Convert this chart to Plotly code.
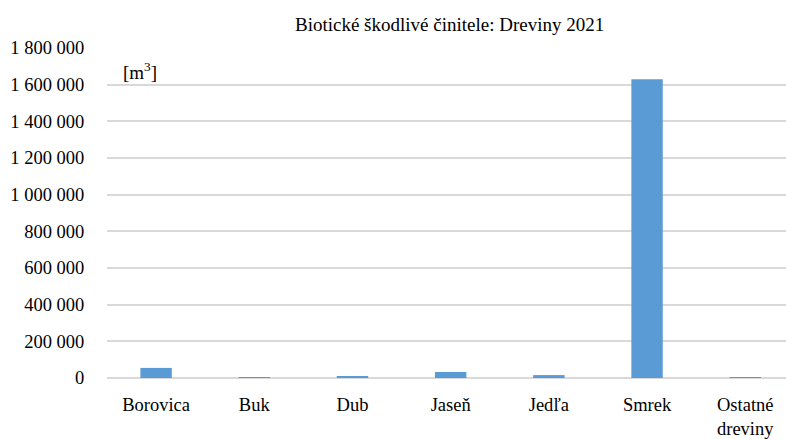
import plotly.graph_objects as go

# Damaged volume by tree species, 2021 (m3)
species = ["Borovica", "Buk", "Dub", "Jaseň", "Jedľa", "Smrek", "Ostatné<br>dreviny"]
volumes = [55000, 5000, 6000, 33000, 16000, 1630000, 2000]
tick_values = [0, 200000, 400000, 600000, 800000, 1000000, 1200000, 1400000, 1600000, 1800000]
tick_labels = ["0", "200 000", "400 000", "600 000", "800 000", "1 000 000",
               "1 200 000", "1 400 000", "1 600 000", "1 800 000"]

font_family = "'Times New Roman', 'Liberation Serif', 'DejaVu Serif', serif"

fig = go.Figure(
    go.Bar(
        x=list(range(len(species))),
        y=volumes,
        marker=dict(color="#5b9bd5", line=dict(width=0)),
        width=0.32,
    )
)

fig.update_layout(
    width=786,
    height=439,
    margin=dict(l=107, r=0, t=48, b=61),
    paper_bgcolor="white",
    plot_bgcolor="white",
    showlegend=False,
    font=dict(family=font_family, color="#000000", size=18),
    title=dict(
        text="Biotické škodlivé činitele: Dreviny 2021",
        x=0.572, xanchor="center", y=0.945, yanchor="middle",
        font=dict(family=font_family, size=19, color="#000000"),
    ),
    xaxis=dict(
        tickmode="array",
        tickvals=list(range(len(species))),
        ticktext=species,
        range=[-0.5, 6.415],
        showgrid=False,
        zeroline=False,
        showline=False,
        ticks="outside",
        ticklen=10,
        tickcolor="rgba(0,0,0,0)",
        tickfont=dict(family=font_family, size=18.5),
    ),
    yaxis=dict(
        range=[0, 1800000],
        tickmode="array",
        tickvals=tick_values,
        ticktext=tick_labels,
        showgrid=True,
        gridcolor="#d9d9d9",
        gridwidth=2,
        zeroline=True,
        zerolinecolor="#d9d9d9",
        zerolinewidth=2,
        showline=False,
        ticks="outside",
        ticklen=18,
        tickcolor="rgba(0,0,0,0)",
        tickfont=dict(family=font_family, size=18.5),
    ),
    annotations=[
        dict(
            text="[m<sup>3</sup>]",
            xref="paper", yref="paper",
            x=0.02, y=0.93, xanchor="left", yanchor="middle",
            showarrow=False,
            font=dict(family=font_family, size=19, color="#000000"),
        )
    ],
)

fig.write_html("out.html")
